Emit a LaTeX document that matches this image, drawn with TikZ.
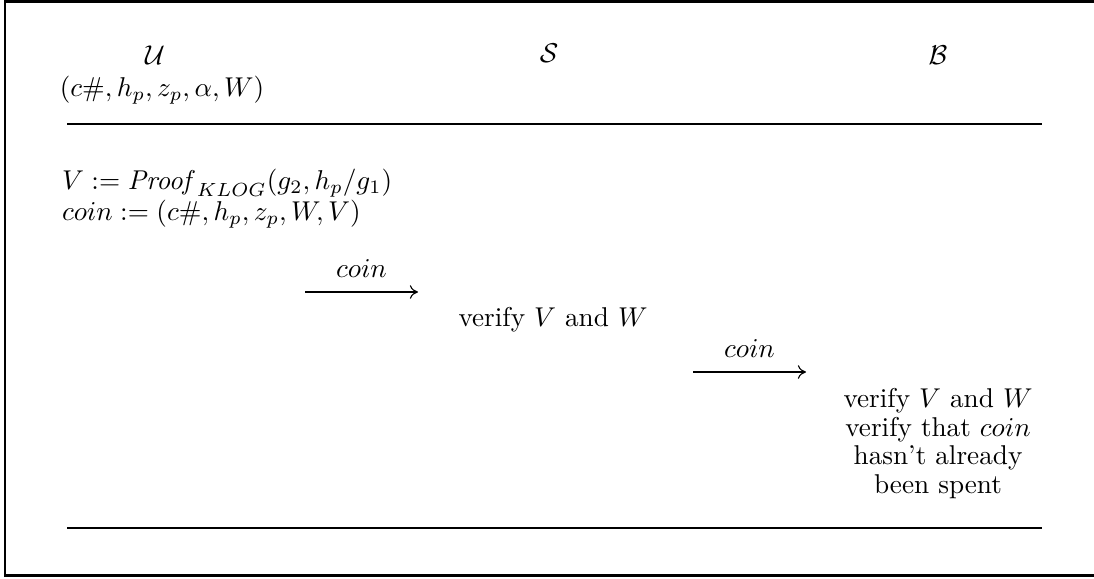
\documentclass[tikz,border=0pt]{standalone}
\usetikzlibrary{arrows.meta}
\begin{document}
\begin{tikzpicture}[x=0.3676pt,y=-0.3676pt,
  frameline/.style={line width=0.75pt},
  rule/.style={line width=0.75pt},
  msg/.style={line width=0.4pt,-{To[length=3pt,width=5pt]}},
  txt/.style={inner sep=0pt,outer sep=0pt},
  lbl/.style={inner sep=0pt,outer sep=0pt}]
\useasboundingbox (0,0) rectangle (1094,578);
% frame (right side lies outside the picture)
\draw[frameline] (1100,1.5) -- (5,1.5) -- (5,575.5) -- (1100,575.5);
% parties
\node[txt] (U) at (155,55) {$\mathcal{U}$};
\node[txt] (Ukeys) at (162,90) {$(c\#,h_p,z_p,\alpha,W)$};
\node[txt] (S) at (549,53) {$\mathcal{S}$};
\node[txt] (B) at (938,55) {$\mathcal{B}$};
% rules
\coordinate (r1l) at (67,124);
\coordinate (r1r) at (1042,124);
\coordinate (r2l) at (67,528);
\coordinate (r2r) at (1042,528);
\draw[rule] (r1l) -- (r1r);
\draw[rule] (r2l) -- (r2r);
% user step
\node[txt,anchor=west,align=left,font={\fontsize{10}{11.4}\selectfont}] (Ustep) at (62,199)
  {$V := \mathit{Proof}_{KLOG}(g_2,h_p/g_1)$\\ $coin := (c\#,h_p,z_p,W,V)$};
% message 1
\coordinate (m1s) at (305,292);
\coordinate (m1e) at (418,292);
\draw[msg] (m1s) -- node[lbl,above=5.5pt] {$coin$} (m1e);
% shop step
\node[txt] (Sstep) at (553,320) {verify $V$ and $W$};
% message 2
\coordinate (m2s) at (693,372);
\coordinate (m2e) at (806,372);
\draw[msg] (m2s) -- node[lbl,above=5.5pt] {$coin$} (m2e);
% bank step
\node[txt,align=center,font={\fontsize{10}{10.5}\selectfont}] (Bstep) at (938,443.5)
  {verify $V$ and $W$\\ verify that $coin$\\ hasn't already\\ been spent};
\end{tikzpicture}
\end{document}
